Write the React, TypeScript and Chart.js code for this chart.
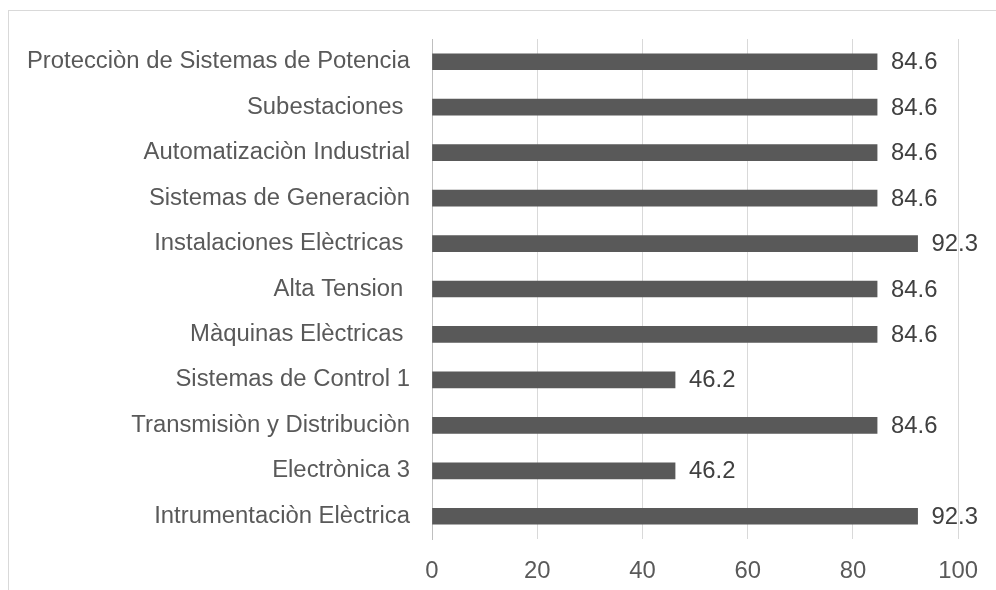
import React, { useEffect, useRef } from "react";
import { Chart, registerables } from "chart.js";

Chart.register(...registerables);

const categories: string[] = [
  "Protecciòn de Sistemas de Potencia",
  "Subestaciones ",
  "Automatizaciòn Industrial",
  "Sistemas de Generaciòn",
  "Instalaciones Elèctricas ",
  "Alta Tension ",
  "Màquinas Elèctricas ",
  "Sistemas de Control 1",
  "Transmisiòn y Distribuciòn",
  "Electrònica 3",
  "Intrumentaciòn Elèctrica",
];

const values: number[] = [84.6, 84.6, 84.6, 84.6, 92.3, 84.6, 84.6, 46.2, 84.6, 46.2, 92.3];

const xTicks: number[] = [0, 20, 40, 60, 80, 100];

const FONT = "'Liberation Sans', Arial, sans-serif";
const SIZE = 23.85;

const valueLabels = {
  id: "valueLabels",
  afterDatasetsDraw(chart: any) {
    const ctx = chart.ctx;
    const meta = chart.getDatasetMeta(0);
    ctx.save();
    ctx.font = `${SIZE}px ${FONT}`;
    ctx.fillStyle = "#404040";
    ctx.textAlign = "left";
    ctx.textBaseline = "middle";
    meta.data.forEach((bar: any, i: number) => {
      ctx.fillText(values[i].toFixed(1), bar.x + 14, bar.y + 1);
    });
    ctx.restore();
  },
};

export default function App() {
  const ref = useRef<HTMLCanvasElement>(null);
  useEffect(() => {
    if (!ref.current) return;
    const chart = new Chart(ref.current, {
      type: "bar",
      data: {
        labels: categories,
        datasets: [
          {
            data: values,
            backgroundColor: "#595959",
            barThickness: 16,
          },
        ],
      },
      options: {
        indexAxis: "y",
        animation: false,
        responsive: false,
        maintainAspectRatio: false,
        layout: { padding: { top: 39, right: 36, left: 0, bottom: 0 } },
        plugins: {
          legend: { display: false },
          tooltip: { enabled: false },
        },
        scales: {
          x: {
            min: 0,
            max: 100,
            afterBuildTicks: (scale: any) => {
              scale.ticks = xTicks.map((v) => ({ value: v }));
            },
            afterFit: (scale: any) => {
              scale.height = 51;
            },
            grid: { color: "#d9d9d9", lineWidth: 1, drawTicks: false },
            border: { display: false },
            ticks: {
              color: "#595959",
              font: { family: FONT, size: SIZE },
              padding: 18,
            },
          },
          y: {
            afterFit: (scale: any) => {
              scale.width = 432;
            },
            grid: { display: false, drawTicks: false },
            border: { display: true, color: "#bfbfbf", width: 1 },
            ticks: {
              color: "#595959",
              font: { family: FONT, size: SIZE },
              padding: 22,
              autoSkip: false,
            },
          },
        },
      },
      plugins: [valueLabels],
    });
    return () => chart.destroy();
  }, []);

  return (
    <div style={{ position: "fixed", left: 0, top: 0, width: 996, height: 590, overflow: "hidden", background: "#fff" }}>
      <div
        style={{
          position: "absolute",
          left: 8,
          top: 10,
          width: 988,
          height: 580,
          borderTop: "1px solid #d9d9d9",
          borderLeft: "1px solid #d9d9d9",
        }}
      />
      <canvas ref={ref} width={996} height={590} style={{ position: "absolute", left: 0, top: 0 }} />
    </div>
  );
}
